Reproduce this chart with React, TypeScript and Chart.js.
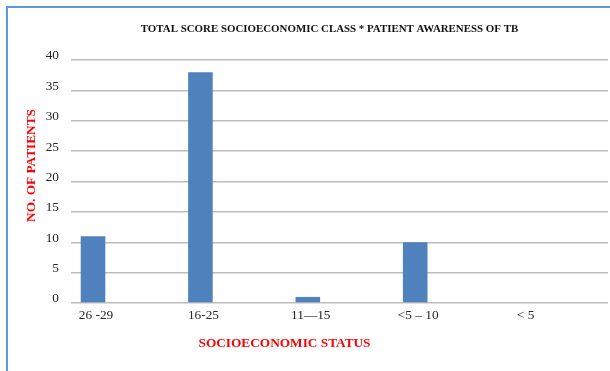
import React, { useEffect, useRef } from "react";
import { Chart, registerables } from "chart.js";

Chart.register(...registerables);

// Socioeconomic score bands and patient counts
const categories: string[] = ["26 -29", "16-25", "11\u201415", "<5 \u2013 10", "< 5"];
const patients: number[] = [11, 38, 1, 10, 0];
const yTicks: number[] = [0, 5, 10, 15, 20, 25, 30, 35, 40];

const TITLE = "TOTAL SCORE SOCIOECONOMIC CLASS * PATIENT AWARENESS OF TB";
const X_TITLE = "SOCIOECONOMIC STATUS";
const Y_TITLE = "NO. OF PATIENTS";

const SERIF = '"Liberation Serif", "Times New Roman", serif';

const captions = {
  id: "captions",
  afterDraw(chart: any) {
    const ctx: CanvasRenderingContext2D = chart.ctx;
    ctx.save();
    ctx.textAlign = "center";
    ctx.textBaseline = "middle";
    ctx.fillStyle = "#111111";
    ctx.font = `bold 10.9px ${SERIF}`;
    ctx.fillText(TITLE, 329.5, 29);
    ctx.fillStyle = "#ff0000";
    ctx.font = `bold 13.3px ${SERIF}`;
    ctx.fillText(X_TITLE, 284.5, 344);
    ctx.translate(32, 165.5);
    ctx.rotate(-Math.PI / 2);
    ctx.fillText(Y_TITLE, 0, 0);
    ctx.restore();
  },
};

export default function App() {
  const ref = useRef<HTMLCanvasElement>(null);

  useEffect(() => {
    document.body.style.margin = "0";
    const canvas = ref.current;
    if (!canvas) return;
    const chart = new Chart(canvas, {
      type: "bar",
      data: {
        datasets: [
          {
            label: "Patients",
            data: patients.map((v, i) => ({ x: i, y: v })),
            backgroundColor: "#4f81bd",
            borderWidth: 0,
            inflateAmount: 0,
            barThickness: 24.6,
          },
        ],
      },
      options: {
        responsive: false,
        animation: false,
        layout: { padding: { top: 60, right: 2, bottom: 0, left: 0 } },
        plugins: {
          legend: { display: false },
          tooltip: { enabled: false },
          title: { display: false },
        },
        scales: {
          x: {
            type: "linear",
            offset: false,
            min: -0.205,
            max: 4.795,
            afterFit(scale: any) {
              scale.height = 68;
            },
            afterBuildTicks(scale: any) {
              scale.ticks = categories.map((_, i) => ({ value: i }));
            },
            grid: { display: false, drawTicks: false },
            border: { display: false },
            ticks: {
              autoSkip: false,
              maxRotation: 0,
              padding: 5,
              labelOffset: 3,
              color: "#262626",
              font: { family: SERIF, size: 13.3 },
              callback: (v: any) => categories[Number(v)] ?? "",
            },
          },
          y: {
            min: 0,
            max: 40,
            afterFit(scale: any) {
              scale.width = 71;
            },
            afterBuildTicks(scale: any) {
              scale.ticks = yTicks.map((v) => ({ value: v }));
            },
            grid: { color: "#bcbcbc", lineWidth: 1.5, drawTicks: false },
            border: { display: false },
            ticks: {
              padding: 12,
              labelOffset: -4,
              color: "#262626",
              font: { family: SERIF, size: 13.3 },
            },
          },
        },
      },
      plugins: [captions],
    });
    return () => chart.destroy();
  }, []);

  return (
    <div style={{ position: "relative", width: 610, height: 371, background: "#fff" }}>
      <canvas ref={ref} width={610} height={371} style={{ display: "block" }} />
      <div
        style={{
          position: "absolute",
          left: 6,
          top: 6,
          right: 0,
          bottom: 0,
          borderTop: "2px solid #5b9bd5",
          borderLeft: "2px solid #5b9bd5",
          pointerEvents: "none",
        }}
      />
    </div>
  );
}
